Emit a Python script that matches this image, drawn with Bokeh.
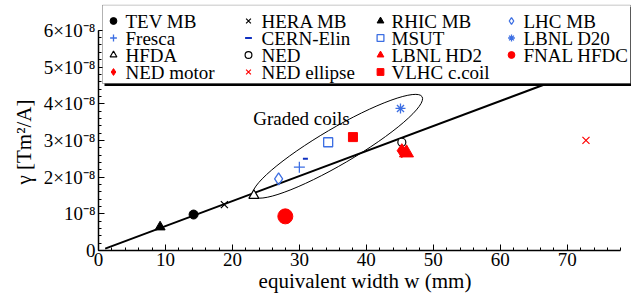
from bokeh.plotting import figure
from bokeh.models import FixedTicker, Range1d, Legend, LegendItem, Label, Title, BoxAnnotation
from bokeh.embed import file_html
from bokeh.resources import INLINE

# gamma values are in units of 1e-8 T m^2/A ; w in mm
tev_w, tev_g = [14.2], [0.98]
hera_w, hera_g = [18.8], [1.25]
rhic_w, rhic_g = [9.2], [0.64]
lhc_w, lhc_g = [26.9], [1.95]
fresca_w, fresca_g = [30.0], [2.27]
cern_w, cern_g = [30.9], [2.50]
msut_w, msut_g = [34.3], [2.95]
d20_w, d20_g = [45.1], [3.87]
hfda_w, hfda_g = [23.2], [1.50]
ned_w, ned_g = [45.3], [2.95]
hd2_w, hd2_g = [46.0], [2.66]
hfdc_w, hfdc_g = [27.9], [0.93]
nedm_w, nedm_g = [45.3], [2.72]
nede_w, nede_g = [72.8], [3.00]
vlhc_w, vlhc_g = [38.0], [3.09]

fit_w = [1.0, 68.0]
fit_g = [0.05, 4.62]

ellipse_w, ellipse_g = [35.7], [2.84]
graded_w, graded_g = [23.1], [3.60]

y_ticks = [0, 1, 2, 3, 4, 5, 6]
y_tick_labels = ["0", "10⁻⁸", "2×10⁻⁸", "3×10⁻⁸", "4×10⁻⁸", "5×10⁻⁸", "6×10⁻⁸"]
x_ticks = [10, 20, 30, 40, 50, 60, 70]

legend_columns = [
    ["TEV MB", "Fresca", "HFDA", "NED motor"],
    ["HERA MB", "CERN-Elin", "NED", "NED ellipse"],
    ["RHIC MB", "MSUT", "LBNL HD2", "VLHC c.coil"],
    ["LHC MB", "LBNL D20", "FNAL HFDC"],
]

FONT = "Liberation Serif"
BLUE = "#3d6fe3"
RED = "#ff0000"

p = figure(width=631, height=295, output_backend="svg", toolbar_location=None,
           x_range=Range1d(0, 79.6), y_range=Range1d(0, 6.703),
           min_border_left=98, min_border_right=0, min_border_top=4, min_border_bottom=45)
p.outline_line_color = None
p.grid.visible = False
p.background_fill_color = "white"

p.line(fit_w, fit_g, line_color="black", line_width=2)
p.ellipse(x=ellipse_w, y=ellipse_g, width=196, height=36, angle=0.53,
          width_units="screen", height_units="screen",
          fill_color=None, line_color="black", line_width=1)

r = {}
r["TEV MB"] = p.scatter(tev_w, tev_g, marker="circle", size=9, color="black")
r["HERA MB"] = p.scatter(hera_w, hera_g, marker="x", size=10, line_color="black", line_width=1.2)
r["RHIC MB"] = p.scatter(rhic_w, rhic_g, marker="triangle", size=10, color="black")
r["LHC MB"] = p.scatter(lhc_w, lhc_g, marker="diamond", size=12, fill_color=None, line_color=BLUE, line_width=1.3)
r["Fresca"] = p.scatter(fresca_w, fresca_g, marker="cross", size=11, line_color=BLUE, line_width=1.3)
r["CERN-Elin"] = p.scatter(cern_w, cern_g, marker="dash", size=5, line_color="#1030c0", line_width=2)
r["MSUT"] = p.scatter(msut_w, msut_g, marker="square", size=9, fill_color=None, line_color=BLUE, line_width=1.3)
r["LBNL D20"] = p.scatter(d20_w, d20_g, marker="asterisk", size=10, line_color=BLUE, line_width=1.3)
r["HFDA"] = p.scatter(hfda_w, hfda_g, marker="triangle", size=10, fill_color="white", line_color="black", line_width=1.2)
r["NED"] = p.scatter(ned_w, ned_g, marker="circle", size=8, fill_color="white", line_color="black", line_width=1.2)
r["LBNL HD2"] = p.scatter(hd2_w, hd2_g, marker="triangle", size=14, color=RED)
r["FNAL HFDC"] = p.scatter(hfdc_w, hfdc_g, marker="circle", size=15, color=RED)
r["NED motor"] = p.scatter(nedm_w, nedm_g, marker="diamond", size=14, color=RED)
r["NED ellipse"] = p.scatter(nede_w, nede_g, marker="x", size=10, line_color=RED, line_width=1.2)
r["VLHC c.coil"] = p.scatter(vlhc_w, vlhc_g, marker="square", size=9, color=RED)

p.add_layout(Label(x=graded_w[0], y=graded_g[0], text="Graded coils", text_font=FONT,
                   text_font_size="19px", text_baseline="middle", text_color="black"))

# legend frame: drop shadow + white box (screen px, relative to the plot frame)
BOX_L, BOX_R, BOX_T, BOX_B = 4, 532, 245.5, 167
p.add_layout(BoxAnnotation(left=BOX_L + 2, right=BOX_R + 3, bottom=BOX_B - 2.5, top=BOX_T - 2,
                           left_units="screen", right_units="screen",
                           bottom_units="screen", top_units="screen",
                           fill_color="black", fill_alpha=1, line_color=None))
p.add_layout(BoxAnnotation(left=BOX_L, right=BOX_R, bottom=BOX_B, top=BOX_T,
                           left_units="screen", right_units="screen",
                           bottom_units="screen", top_units="screen",
                           fill_color="white", fill_alpha=1, line_color="black", line_width=1))

ROW_H = 17
ROW0 = 229.5          # centre of first legend row
COL_GLYPH = [15, 150, 282, 413]
COL_TEXT = [27, 163, 293, 425]
GW = 22
for ci, names in enumerate(legend_columns):
    n = len(names)
    leg = Legend(items=[LegendItem(label=" ", renderers=[r[k]]) for k in names],
                 location=(COL_GLYPH[ci] - GW / 2, ROW0 + ROW_H / 2 - n * ROW_H),
                 orientation="vertical", margin=0, padding=0, spacing=0,
                 glyph_width=GW, glyph_height=ROW_H, label_height=ROW_H,
                 label_width=0, label_standoff=0, label_text_font_size="1px",
                 border_line_color=None, background_fill_alpha=0)
    p.add_layout(leg, "center")
    for ri, name in enumerate(names):
        p.add_layout(Label(x=COL_TEXT[ci], y=ROW0 - ri * ROW_H, x_units="screen", y_units="screen",
                           text=name, text_font=FONT, text_font_size="19px",
                           text_baseline="middle", text_align="left", text_color="black"))

xa = p.xaxis[0]
xa.ticker = FixedTicker(ticks=[0] + x_ticks, minor_ticks=[i * 2 for i in range(40)])
xa.bounds = (0, 78)
xa.axis_label = "equivalent width w (mm)"

ya = p.yaxis[0]
ya.ticker = FixedTicker(ticks=y_ticks, minor_ticks=[i * 0.2 for i in range(31)])
ya.major_label_overrides = {t: s for t, s in zip(y_ticks, y_tick_labels)}
ya.bounds = (0, 6)

p.add_layout(Title(text="γ [Tm²/A]", align="left", offset=66, text_font=FONT,
                   text_font_size="21px", text_font_style="normal", text_color="black"), "left")

for ax in (xa, ya):
    ax.axis_line_color = "black"
    ax.axis_line_width = 1.5
    ax.major_tick_in = 6
    ax.major_tick_out = 0
    ax.minor_tick_in = 3
    ax.minor_tick_out = 0
    ax.major_tick_line_color = "black"
    ax.minor_tick_line_color = "black"
    ax.major_label_text_font = FONT
    ax.major_label_text_font_size = "19px"
    ax.major_label_text_color = "black"
    ax.axis_label_text_font = FONT
    ax.axis_label_text_font_size = "21px"
    ax.axis_label_text_font_style = "normal"
    ax.axis_label_text_color = "black"
    ax.axis_label_standoff = 0
xa.major_label_standoff = 2
ya.major_label_standoff = 3

open("out.html", "w").write(file_html(p, INLINE))
